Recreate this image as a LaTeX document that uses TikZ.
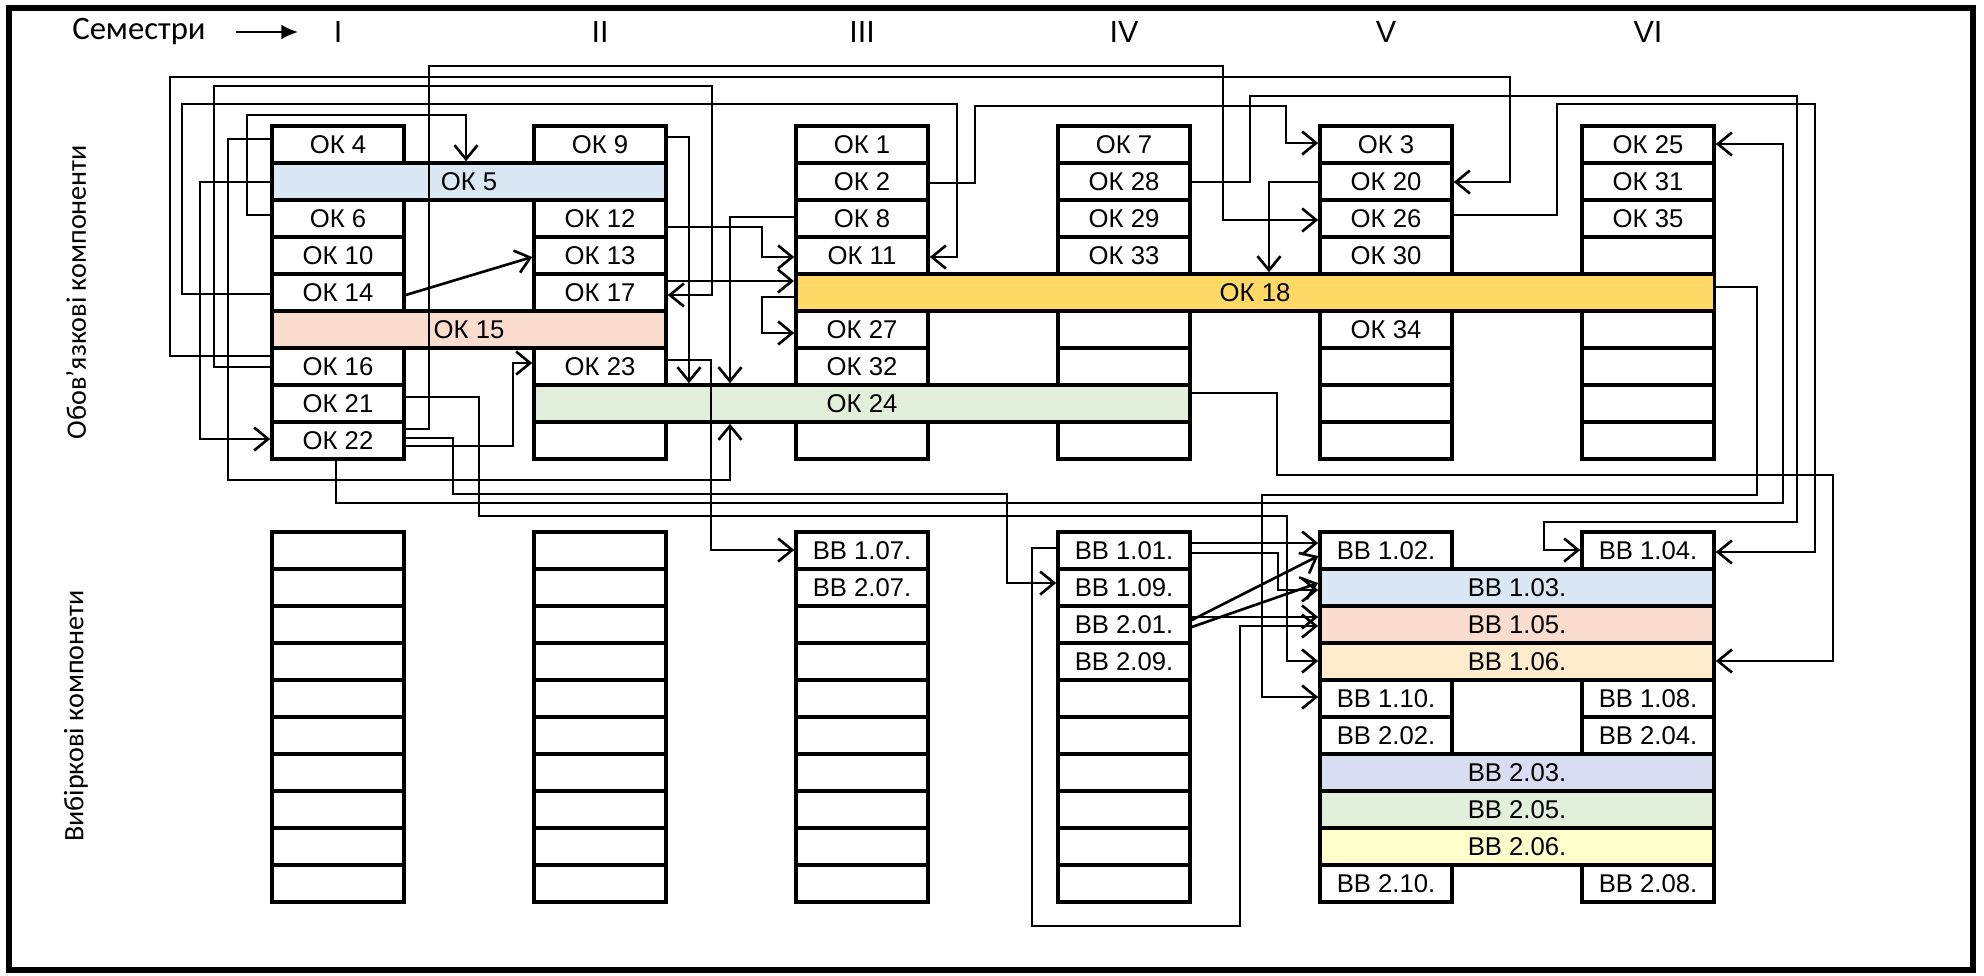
\documentclass[tikz,border=0pt]{standalone}
\usepackage{fontspec}
\setmainfont{Liberation Sans}
\newfontfamily\calfont{Carlito}
\usetikzlibrary{arrows.meta}
\definecolor{barblue}{RGB}{218,231,245}
\definecolor{barrose}{RGB}{251,221,207}
\definecolor{bargold}{RGB}{255,217,102}
\definecolor{bargreen}{RGB}{226,239,218}
\definecolor{barpeach}{RGB}{255,236,204}
\definecolor{barlilac}{RGB}{217,221,242}
\definecolor{barlemon}{RGB}{255,255,204}

\begin{document}
\begin{tikzpicture}[x=.01cm,y=-.01cm,
  box/.style={line width=1pt},
  cell/.style={draw,line width=1pt,minimum width=1.32cm,minimum height=.37cm,
    inner sep=0pt,font=\fontsize{7.3}{8}\selectfont},
  bar/.style={cell,minimum width=#1},
  link/.style={line width=.75pt,-{Straight Barb[length=1.4mm,width=2.3mm]}}]
\useasboundingbox (0,0) rectangle (1984,975);
\draw[line width=1.5pt] (9,8) rectangle (1973,970);

\node[font=\calfont\fontsize{9.3}{11}\selectfont] (sem) at (139,32) {Семестри};
\foreach \n/\t [count=\i from 0] in {s1/I,s2/II,s3/III,s4/IV,s5/V,s6/VI}
  \node[font=\fontsize{8.7}{10}\selectfont] (\n) at ({338+262*\i},32) {\t};
\draw[line width=.8pt,-{Latex[length=1.7mm,width=1.5mm]}] ([xshift=1.8mm]sem.east) -- ([xshift=-2.3mm]s1.west);
\node[font=\calfont\fontsize{8}{10}\selectfont,rotate=90] (oblabel) at (76,292) {Обов’язкові компоненти};
\node[font=\calfont\fontsize{8}{10}\selectfont,rotate=90] (vblabel) at (76,716) {Вибіркові компонети};

\foreach \c in {0,...,5}
  \foreach \r in {0,...,8}
    \draw[box] ({272+262*\c},{126+37*\r}) rectangle +(132,37);
\foreach \c in {0,...,3}
  \foreach \r in {0,...,9}
    \draw[box] ({272+262*\c},{532+37*\r}) rectangle +(132,37);

\foreach \n/\c/\r in {4/0/0,6/0/2,10/0/3,14/0/4,16/0/6,21/0/7,22/0/8,
    9/1/0,12/1/2,13/1/3,17/1/4,23/1/6,
    1/2/0,2/2/1,8/2/2,11/2/3,27/2/5,32/2/6,
    7/3/0,28/3/1,29/3/2,33/3/3,
    3/4/0,20/4/1,26/4/2,30/4/3,34/4/5,
    25/5/0,31/5/1,35/5/2}
  \node[cell] (ok\n) at ({338+262*\c},{144.5+37*\r}) {ОК \n};
\node[bar=3.94cm,fill=barblue] (ok5) at (469,181.5) {ОК 5};
\node[bar=3.94cm,fill=barrose] (ok15) at (469,329.5) {ОК 15};
\node[bar=9.18cm,fill=bargold] (ok18) at (1255,292.5) {ОК 18};
\node[bar=6.56cm,fill=bargreen] (ok24) at (862,403.5) {ОК 24};

\foreach \n/\t/\c/\r in {bb107/1.07/2/0,bb207/2.07/2/1,
    bb101/1.01/3/0,bb109/1.09/3/1,bb201/2.01/3/2,bb209/2.09/3/3,
    bb102/1.02/4/0,bb110/1.10/4/4,bb202/2.02/4/5,bb210/2.10/4/9,
    bb104/1.04/5/0,bb108/1.08/5/4,bb204/2.04/5/5,bb208/2.08/5/9}
  \node[cell] (\n) at ({338+262*\c},{550.5+37*\r}) {ВВ \t.};
\node[bar=3.94cm,fill=barblue] (bb103) at (1517,587.5) {ВВ 1.03.};
\node[bar=3.94cm,fill=barrose] (bb105) at (1517,624.5) {ВВ 1.05.};
\node[bar=3.94cm,fill=barpeach] (bb106) at (1517,661.5) {ВВ 1.06.};
\node[bar=3.94cm,fill=barlilac] (bb203) at (1517,772.5) {ВВ 2.03.};
\node[bar=3.94cm,fill=bargreen] (bb205) at (1517,809.5) {ВВ 2.05.};
\node[bar=3.94cm,fill=barlemon] (bb206) at (1517,846.5) {ВВ 2.06.};

\draw[link] (ok4.west |- 0,139) -| (228,480) -| (ok24.south -| 730,0);
\draw[link] (ok6.west |- 0,215) -| (247,115) -| (ok5.north -| 466,0);
\draw[link] (ok5.west |- 0,182) -| (200,439) -- (ok22.west |- 0,439);
\draw[link] (ok14.west |- 0,294) -| (182,104) -| (957,257) -- (ok11.east |- 0,257);
\draw[link] (ok16.west |- 0,356) -| (170,77) -| (1510,182) -- (ok20.east |- 0,182);
\draw[link] (ok16.west |- 0,367) -| (214,86) -| (712,295) -- (ok17.east |- 0,295);
\draw[link] (ok14.east |- 0,295) -- (ok13.west |- 0,257);
\draw[link] (ok22.east |- 0,429) -| (429,66) -| (1223,220) -- (ok26.west |- 0,220);
\draw[link] (ok22.east |- 0,438) -| (453,494) -| (1007,583) -- (bb109.west |- 0,583);
\draw[link] (ok22.east |- 0,446) -| (513,363) -- (ok23.west |- 0,363);
\draw[link] (ok22.south -| 336,0) |- (1783,503) |- (ok25.east |- 0,144);
\draw[link] (ok21.east |- 0,397) -| (479,516) -| (1287,661) -- (bb106.west |- 0,661);
\draw[link] (ok9.east |- 0,137) -| (ok24.north -| 689,0);
\draw[link] (ok12.east |- 0,227) -| (762,257) -- (ok11.west |- 0,257);
\draw[link] (ok17.east |- 0,281) -- (ok18.west |- 0,281);
\draw[link] (ok18.west |- 0,297) -| (762,333) -- (ok27.west |- 0,333);
\draw[link] (ok8.west |- 0,217) -| (ok24.north -| 730,0);
\draw[link] (ok23.east |- 0,360) -| (711,550) -- (bb107.west |- 0,550);
\draw[link] (ok2.east |- 0,183) -| (975,106) -| (1286,143) -- (ok3.west |- 0,143);
\draw[link] (ok28.east |- 0,182) -| (1250,96) -| (1797,522) -| (1544,550) -- (bb104.west |- 0,550);
\draw[link] (ok20.west |- 0,182) -| (ok18.north -| 1269,0);
\draw[link] (ok26.east |- 0,215) -| (1557,104) -| (1815,552) -- (bb104.east |- 0,552);
\draw[link] (ok18.east |- 0,287) -| (1757,495) -| (1262,697) -- (bb110.west |- 0,697);
\draw[link] (ok24.east |- 0,393) -| (1277,475) -| (1833,661) -- (bb106.east |- 0,661);
\draw[link] (bb101.east |- 0,543) -- (bb102.west |- 0,543);
\draw[link] (bb101.east |- 0,553) -| (1278,590) -- (bb103.west |- 0,590);
\draw[link] (bb101.west |- 0,548) -| (1032,926) -| (1240,626) -- (bb105.west |- 0,626);
\draw[link] (bb201.east |- 0,620) -- (bb102.west |- 0,556);
\draw[link] (bb201.east |- 0,627) -- (bb103.west |- 0,583);
\draw[link] (bb201.east |- 0,617) -- (bb105.west |- 0,617);
\end{tikzpicture}
\end{document}
